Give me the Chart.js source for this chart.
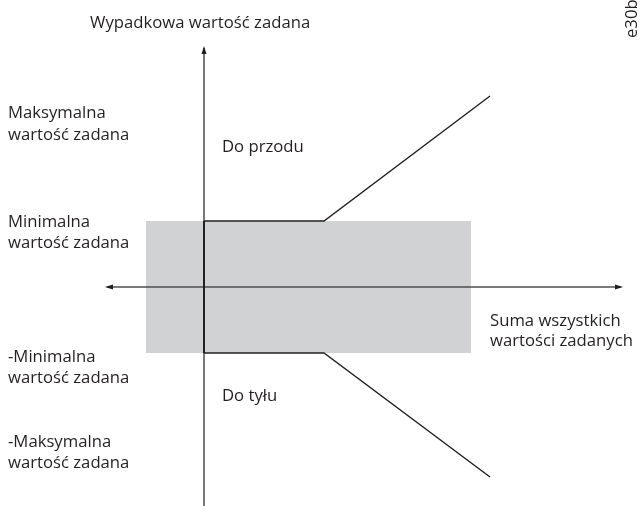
<!DOCTYPE html>
<html>
<head>
<meta charset="utf-8">
<script src="https://cdn.jsdelivr.net/npm/chart.js@4/dist/chart.umd.min.js"></script>
<style>
  html, body { margin: 0; padding: 0; background: #fff; }
  canvas { display: block; }
</style>
</head>
<body>
<canvas id="chart" width="641" height="506"></canvas>
<script>
// values in abstract units (origin = axes crossing)
const bandX = [-5.8, 26.7];
const minRef = 6.6;
const forwardX = [0, 12, 28.6];
const forwardY = [6.6, 6.6, 19.1];
const reverseX = [0, 12, 28.6];
const reverseY = [-6.6, -6.6, -19.0];
const xAxisRange = [-9.7, 41.7];
const yAxisRange = [-21.9, 23.9];

const ink = '#231f20';
const axisGrey = '#4d4d4d';
const font = '"Open Sans", sans-serif';

function pts(xs, ys) {
    return xs.map((x, i) => ({ x: x, y: ys[i] }));
}

// text labels, placed in pixels
const labels = [
    { text: 'Wypadkowa wartość zadana', x: 90, y: 28 },
    { text: 'Maksymalna', x: 8, y: 118 },
    { text: 'wartość zadana', x: 8, y: 140 },
    { text: 'Do przodu', x: 222, y: 152 },
    { text: 'Minimalna', x: 8, y: 227 },
    { text: 'wartość zadana', x: 8, y: 248 },
    { text: 'Suma wszystkich', x: 490, y: 326 },
    { text: 'wartości zadanych', x: 490, y: 346 },
    { text: '-Minimalna', x: 8, y: 362 },
    { text: 'wartość zadana', x: 8, y: 383 },
    { text: 'Do tyłu', x: 222, y: 401 },
    { text: '-Maksymalna', x: 8, y: 447 },
    { text: 'wartość zadana', x: 8, y: 468 }
];

const decorations = {
    id: 'decorations',
    afterDatasetsDraw(chart) {
        const ctx = chart.ctx;
        const xs = chart.scales.x, ys = chart.scales.y;
        ctx.save();
        ctx.fillStyle = ink;
        // arrow heads
        const ox = xs.getPixelForValue(0), oy = ys.getPixelForValue(0);
        const top = ys.getPixelForValue(yAxisRange[1]);
        const left = xs.getPixelForValue(xAxisRange[0]);
        const right = xs.getPixelForValue(xAxisRange[1]);
        ctx.beginPath();
        ctx.moveTo(ox, top - 2); ctx.lineTo(ox - 2.5, top + 6); ctx.lineTo(ox + 2.5, top + 6); ctx.closePath();
        ctx.moveTo(left - 2, oy); ctx.lineTo(left + 6, oy - 2.5); ctx.lineTo(left + 6, oy + 2.5); ctx.closePath();
        ctx.moveTo(right + 2, oy); ctx.lineTo(right - 6, oy - 2.5); ctx.lineTo(right - 6, oy + 2.5); ctx.closePath();
        ctx.fill();
        // texts
        ctx.font = '16.7px ' + font;
        ctx.textBaseline = 'alphabetic';
        ctx.textAlign = 'left';
        labels.forEach(l => ctx.fillText(l.text, l.x, l.y));
        ctx.translate(637, 38);
        ctx.rotate(-Math.PI / 2);
        ctx.fillText('e30bb987.10', 0, 0);
        ctx.restore();
    }
};

new Chart(document.getElementById('chart'), {
    type: 'scatter',
    data: {
        datasets: [
            { data: pts(forwardX, forwardY), showLine: true, borderColor: ink, borderWidth: 1.4, pointRadius: 0, order: 1 },
            { data: pts(reverseX, reverseY), showLine: true, borderColor: ink, borderWidth: 1.4, pointRadius: 0, order: 1 },
            { data: pts([0, 0], [-minRef, minRef]), showLine: true, borderColor: ink, borderWidth: 2, pointRadius: 0, order: 1 },
            { data: pts([0, 0], yAxisRange), showLine: true, borderColor: axisGrey, borderWidth: 1.5, pointRadius: 0, order: 2 },
            { data: pts(xAxisRange, [0, 0]), showLine: true, borderColor: axisGrey, borderWidth: 1.5, pointRadius: 0, order: 2 },
            { data: pts(bandX, [minRef, minRef]), showLine: true, borderWidth: 0, borderColor: 'rgba(0,0,0,0)', backgroundColor: '#d1d2d4', fill: '+1', pointRadius: 0, order: 3 },
            { data: pts(bandX, [-minRef, -minRef]), showLine: true, borderWidth: 0, borderColor: 'rgba(0,0,0,0)', pointRadius: 0, order: 3 }
        ]
    },
    options: {
        responsive: false,
        animation: false,
        layout: { padding: 0 },
        scales: {
            x: { type: 'linear', display: false, min: -20.4, max: 43.7 },
            y: { type: 'linear', display: false, min: -21.9, max: 28.7 }
        },
        plugins: { legend: { display: false }, tooltip: { enabled: false } }
    },
    plugins: [decorations]
});
</script>
</body>
</html>
